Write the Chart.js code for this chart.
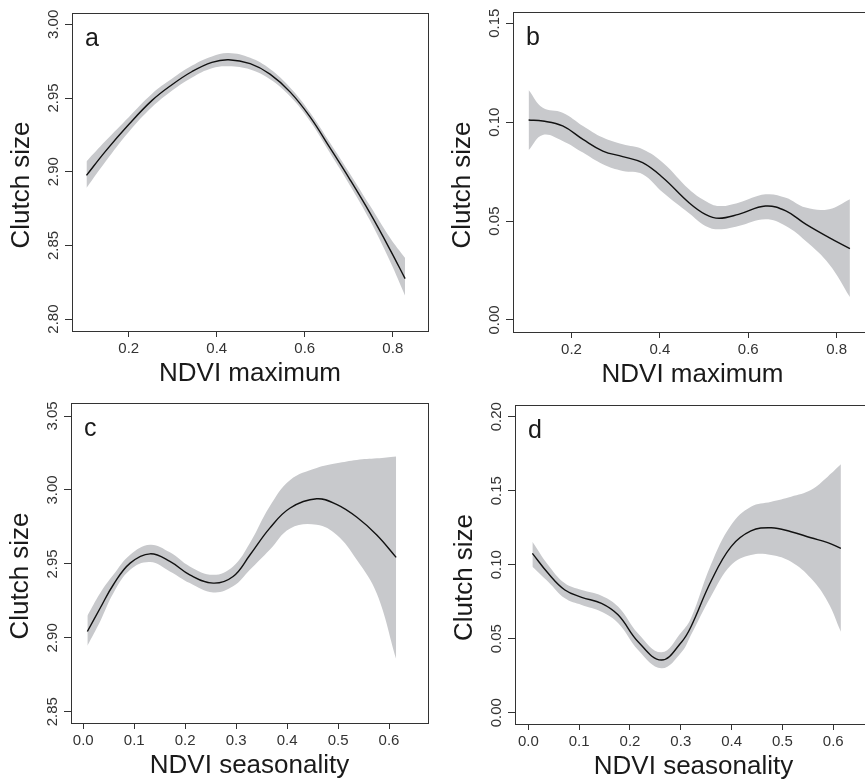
<!DOCTYPE html>
<html>
<head>
<meta charset="utf-8">
<title>Clutch size vs NDVI</title>
<script src="https://cdn.jsdelivr.net/npm/chart.js@4.4.1/dist/chart.umd.min.js"></script>
<style>
  html, body { margin: 0; padding: 0; background: #fff; width: 865px; height: 781px; overflow: hidden; }
  canvas { position: absolute; }
</style>
</head>
<body>
<canvas id="panel-a" width="432" height="390" style="left:0px;top:0px"></canvas>
<canvas id="panel-b" width="435" height="392" style="left:441px;top:-1px"></canvas>
<canvas id="panel-c" width="433" height="392" style="left:-1px;top:390px"></canvas>
<canvas id="panel-d" width="433" height="391" style="left:443px;top:392px"></canvas>
<script>
"use strict";

// a: NDVI maximum vs clutch size
const aX     = [0.104, 0.147, 0.200, 0.253, 0.298, 0.344, 0.389, 0.427, 0.476, 0.521, 0.567, 0.612, 0.657, 0.703, 0.748, 0.794, 0.828];
const aFit   = [2.8975, 2.9138, 2.9320, 2.9484, 2.9590, 2.9680, 2.9742, 2.9760, 2.9733, 2.9662, 2.9540, 2.9372, 2.9163, 2.8945, 2.8720, 2.8470, 2.8274];
const aUpper = [2.9070, 2.9208, 2.9370, 2.9529, 2.9630, 2.9720, 2.9782, 2.9805, 2.9773, 2.9697, 2.9570, 2.9402, 2.9198, 2.8985, 2.8770, 2.8550, 2.8414];
const aLower = [2.8890, 2.9068, 2.9270, 2.9439, 2.9550, 2.9640, 2.9702, 2.9715, 2.9693, 2.9627, 2.9510, 2.9342, 2.9128, 2.8905, 2.8670, 2.8390, 2.8158];

// b: NDVI maximum (second response)
const bX     = [0.103, 0.135, 0.180, 0.226, 0.271, 0.316, 0.361, 0.407, 0.466, 0.503, 0.534, 0.578, 0.639, 0.685, 0.730, 0.783, 0.830];
const bFit   = [0.1011, 0.1006, 0.0981, 0.0913, 0.0854, 0.0826, 0.0795, 0.0719, 0.0593, 0.0534, 0.0514, 0.0534, 0.0576, 0.0551, 0.0484, 0.0416, 0.0360];
const bUpper = [0.1163, 0.1073, 0.1048, 0.0981, 0.0922, 0.0888, 0.0863, 0.0795, 0.0661, 0.0602, 0.0576, 0.0593, 0.0635, 0.0618, 0.0568, 0.0560, 0.0610];
const bLower = [0.0858, 0.0935, 0.0905, 0.0846, 0.0787, 0.0753, 0.0737, 0.0644, 0.0539, 0.0475, 0.0458, 0.0475, 0.0509, 0.0475, 0.0399, 0.0282, 0.0116];

// c: NDVI seasonality vs clutch size
const cX     = [0.008, 0.033, 0.059, 0.092, 0.131, 0.170, 0.209, 0.255, 0.294, 0.327, 0.366, 0.406, 0.458, 0.497, 0.537, 0.576, 0.614];
const cFit   = [2.9043, 2.9200, 2.9359, 2.9505, 2.9568, 2.9517, 2.9426, 2.9370, 2.9415, 2.9560, 2.9742, 2.9878, 2.9940, 2.9902, 2.9815, 2.9695, 2.9544];
const cUpper = [2.9150, 2.9302, 2.9426, 2.9562, 2.9630, 2.9578, 2.9483, 2.9426, 2.9483, 2.9641, 2.9889, 3.0067, 3.0148, 3.0180, 3.0203, 3.0214, 3.0227];
const cLower = [2.8946, 2.9111, 2.9302, 2.9460, 2.9512, 2.9449, 2.9370, 2.9307, 2.9348, 2.9460, 2.9595, 2.9740, 2.9765, 2.9697, 2.9526, 2.9300, 2.8856];

// d: NDVI seasonality (second response)
const dX     = [0.008, 0.039, 0.072, 0.105, 0.144, 0.177, 0.216, 0.262, 0.302, 0.320, 0.359, 0.399, 0.438, 0.478, 0.517, 0.556, 0.589, 0.615];
const dFit   = [0.1077, 0.0942, 0.0829, 0.0780, 0.0739, 0.0660, 0.0480, 0.0356, 0.0480, 0.0581, 0.0885, 0.1122, 0.1228, 0.1250, 0.1223, 0.1182, 0.1149, 0.1111];
const dUpper = [0.1155, 0.0998, 0.0874, 0.0829, 0.0791, 0.0716, 0.0536, 0.0408, 0.0547, 0.0638, 0.0998, 0.1268, 0.1392, 0.1426, 0.1460, 0.1505, 0.1595, 0.1678];
const dLower = [0.0986, 0.0885, 0.0773, 0.0728, 0.0682, 0.0604, 0.0424, 0.0300, 0.0412, 0.0525, 0.0784, 0.0998, 0.1066, 0.1066, 0.1020, 0.0908, 0.0750, 0.0547];

const INK = '#333333';
const BAND = '#c8c9cc';
const FONT = '"Liberation Sans", Arial, Helvetica, sans-serif';

const pts = (xs, ys) => xs.map((x, i) => ({ x: x, y: ys[i] }));

// R-style box, panel letter and y-axis title
const framePlugin = {
    id: 'frame',
    afterDraw(chart, args, opts) {
        const { ctx, chartArea: a } = chart;
        ctx.save();
        ctx.strokeStyle = INK;
        ctx.lineWidth = 1;
        ctx.strokeRect(Math.round(a.left) + 0.5, Math.round(a.top) + 0.5,
            Math.round(a.right - a.left), Math.round(a.bottom - a.top));
        ctx.fillStyle = '#1a1a1a';
        ctx.font = '25px ' + FONT;
        ctx.textAlign = 'left';
        ctx.textBaseline = 'alphabetic';
        ctx.fillText(opts.letter, a.left + 13, a.top + 33);
        ctx.translate(a.left - 50, (a.top + a.bottom) / 2 + 13);
        ctx.rotate(-Math.PI / 2);
        ctx.font = '26px ' + FONT;
        ctx.textAlign = 'center';
        ctx.textBaseline = 'middle';
        ctx.fillText(opts.yTitle, 0, 0);
        ctx.restore();
    }
};

function makePanel(id, p) {
    const ctx = document.getElementById(id).getContext('2d');
    return new Chart(ctx, {
        type: 'line',
        data: {
            datasets: [
                { data: pts(p.x, p.fit), borderColor: '#111', borderWidth: 1.4, fill: false, tension: 0.4 },
                { data: pts(p.x, p.upper), borderColor: 'transparent', borderWidth: 0, backgroundColor: BAND, fill: '+1', tension: 0.4 },
                { data: pts(p.x, p.lower), borderColor: 'transparent', borderWidth: 0, fill: false, tension: 0.4 }
            ]
        },
        options: {
            animation: false,
            responsive: false,
            devicePixelRatio: 1,
            layout: { padding: { top: 13, right: 4, left: 0, bottom: 0 } },
            elements: { point: { radius: 0, hoverRadius: 0 } },
            plugins: {
                legend: { display: false },
                tooltip: { enabled: false },
                frame: { letter: p.letter, yTitle: 'Clutch size' }
            },
            scales: {
                x: {
                    type: 'linear',
                    min: p.xMin, max: p.xMax,
                    border: { display: false },
                    grid: { drawOnChartArea: false, drawTicks: true, tickLength: 6, color: INK },
                    ticks: {
                        stepSize: p.xStep, includeBounds: false, autoSkip: false, maxRotation: 0,
                        padding: 3, color: INK, font: { family: FONT, size: 15 },
                        callback: v => v.toFixed(1)
                    },
                    title: {
                        display: true, text: p.xTitle, color: '#1a1a1a',
                        font: { family: FONT, size: 26 }, padding: { top: 0, bottom: 1 }
                    },
                    afterFit: s => { s.height = 59; }
                },
                y: {
                    type: 'linear',
                    min: p.yMin, max: p.yMax,
                    border: { display: false },
                    grid: { drawOnChartArea: false, drawTicks: true, tickLength: 7, color: INK },
                    ticks: {
                        stepSize: p.yStep, includeBounds: false, autoSkip: false,
                        minRotation: 90, maxRotation: 90, crossAlign: 'center',
                        padding: -3, color: INK, font: { family: FONT, size: 15 },
                        callback: v => v.toFixed(2)
                    },
                    afterFit: s => { s.width = 72; }
                }
            }
        },
        plugins: [framePlugin]
    });
}

makePanel('panel-a', {
    letter: 'a', xTitle: 'NDVI maximum',
    x: aX, fit: aFit, upper: aUpper, lower: aLower,
    xMin: 0.0711, xMax: 0.880, xStep: 0.2,
    yMin: 2.7919, yMax: 3.0077, yStep: 0.05
});
makePanel('panel-b', {
    letter: 'b', xTitle: 'NDVI maximum',
    x: bX, fit: bFit, upper: bUpper, lower: bLower,
    xMin: 0.0677, xMax: 0.880, xStep: 0.2,
    yMin: -0.0061, yMax: 0.1557, yStep: 0.05
});
makePanel('panel-c', {
    letter: 'c', xTitle: 'NDVI seasonality',
    x: cX, fit: cFit, upper: cUpper, lower: cLower,
    xMin: -0.0241, xMax: 0.6765, xStep: 0.1,
    yMin: 2.8424, yMax: 3.0588, yStep: 0.05
});
makePanel('panel-d', {
    letter: 'd', xTitle: 'NDVI seasonality',
    x: dX, fit: dFit, upper: dUpper, lower: dLower,
    xMin: -0.0262, xMax: 0.6762, xStep: 0.1,
    yMin: -0.0076, yMax: 0.2079, yStep: 0.05
});
</script>
</body>
</html>
